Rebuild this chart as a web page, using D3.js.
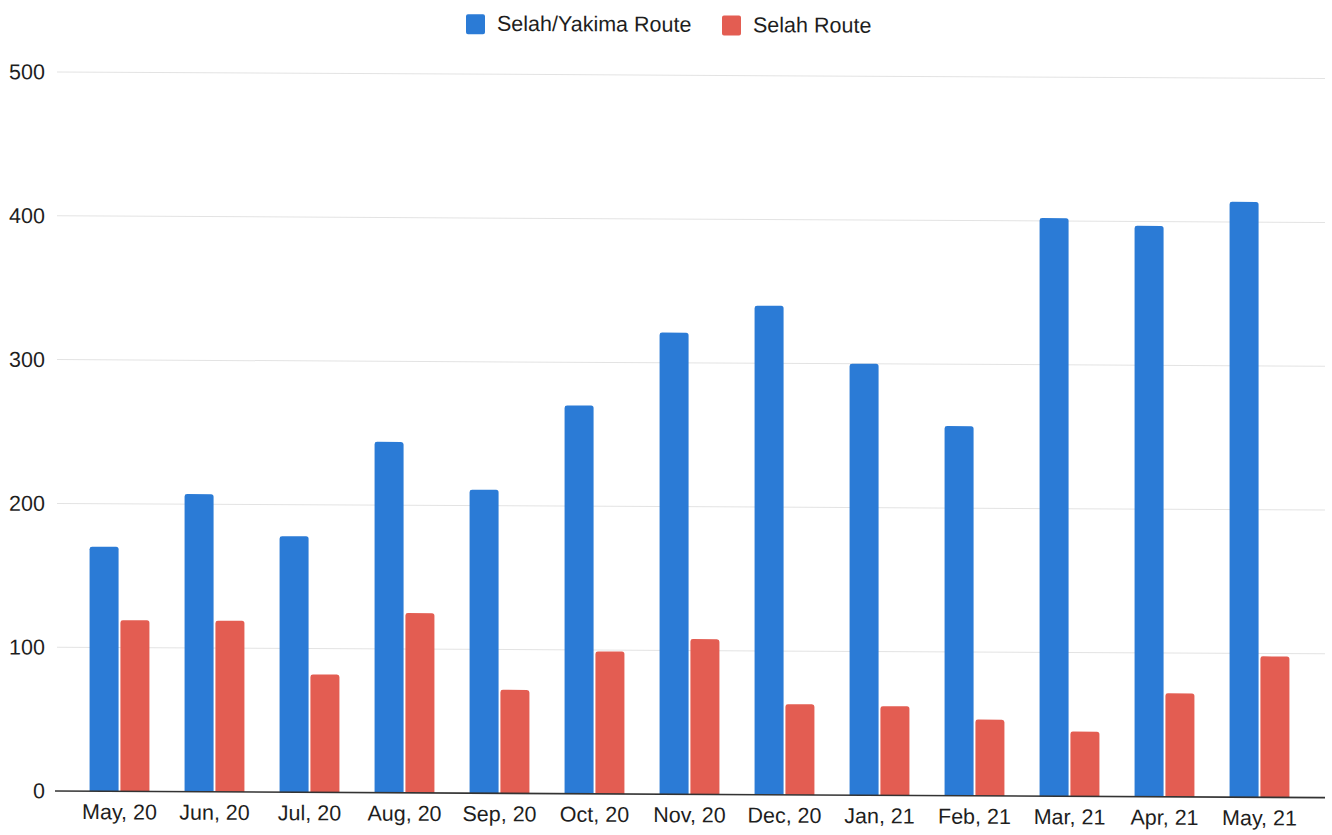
<!DOCTYPE html>
<meta charset="utf-8">
<style>
body{ margin:0; background:#fff; }
text{
	font-family:"Liberation Sans", Arial, Helvetica, sans-serif;
	font-size:21.5px;
	fill:#1e1e1e;
}
.grid line{ stroke:#e3e3e3; stroke-width:1px; }
.baseline{ stroke:#333; stroke-width:1.6px; }
</style>
<body>
<script src="https://d3js.org/d3.v7.min.js"></script>
<script>

var months=["May, 20","Jun, 20","Jul, 20","Aug, 20","Sep, 20","Oct, 20","Nov, 20",
	"Dec, 20","Jan, 21","Feb, 21","Mar, 21","Apr, 21","May, 21"];
var seriesNames=["Selah/Yakima Route","Selah Route"];
var selahYakima=[170,207,178,244,211,270,321,340,300,257,402,397,414];
var selah=[119,119,82,125,72,99,108,63,62,53,45,72,98];
var yTicks=[0,100,200,300,400,500];
var colors=["#2b7bd6","#e35d52"];

var W=1332, H=835;
var svg=d3.select("body").append("svg").attr("width",W).attr("height",H);

// the scanned original leans a little to the right
var g=svg.append("g").attr("transform","translate(60,0) skewY(0.3) translate(-60,0)");

var x=d3.scaleBand().domain(months).range([72,1307]).paddingInner(0.37).paddingOuter(0.185);
var xs=d3.scaleBand().domain(seriesNames).range([0,x.bandwidth()]).paddingInner(0.06);
var y=d3.scaleLinear().domain([0,500]).range([791,72]);

// gridlines
g.append("g").attr("class","grid").selectAll("line")
	.data(yTicks.filter(d=>d>0)).enter().append("line")
	.attr("x1",57).attr("x2",1325)
	.attr("y1",d=>y(d)).attr("y2",d=>y(d));

// y tick labels
g.append("g").selectAll("text").data(yTicks).enter().append("text")
	.attr("x",45).attr("y",d=>y(d)).attr("dy","0.35em")
	.attr("text-anchor","end").text(d=>d);

function topRounded(x0,y0,w,h,r){
	r=Math.min(r,h);
	return "M"+x0+","+(y0+h)+"V"+(y0+r)+"Q"+x0+","+y0+" "+(x0+r)+","+y0+
		"H"+(x0+w-r)+"Q"+(x0+w)+","+y0+" "+(x0+w)+","+(y0+r)+"V"+(y0+h)+"Z";
}

var rows=months.map((m,i)=>({month:m,vals:[selahYakima[i],selah[i]]}));

var groups=g.append("g").selectAll("g").data(rows).enter().append("g")
	.attr("transform",d=>"translate("+x(d.month)+",0)");

groups.selectAll("path").data(d=>d.vals.map((v,j)=>({name:seriesNames[j],v:v,j:j})))
	.enter().append("path")
	.attr("fill",d=>colors[d.j])
	.attr("d",d=>topRounded(xs(d.name),y(d.v),xs.bandwidth(),y(0)-y(d.v),2.5));

// baseline
g.append("line").attr("class","baseline")
	.attr("x1",55).attr("x2",1325).attr("y1",y(0)).attr("y2",y(0));

// x labels
g.append("g").selectAll("text").data(months).enter().append("text")
	.attr("x",d=>x(d)+x.bandwidth()/2).attr("y",819)
	.attr("text-anchor","middle").text(d=>d);

// legend
var legendX=[466,722];
var lg=g.append("g").selectAll("g").data(seriesNames).enter().append("g")
	.attr("transform",(d,i)=>"translate("+legendX[i]+",12)");
lg.append("rect").attr("width",19).attr("height",20).attr("rx",2)
	.attr("fill",(d,i)=>colors[i]);
lg.append("text").attr("x",31).attr("y",16.5).text(d=>d);

</script>
</body>
</html>
